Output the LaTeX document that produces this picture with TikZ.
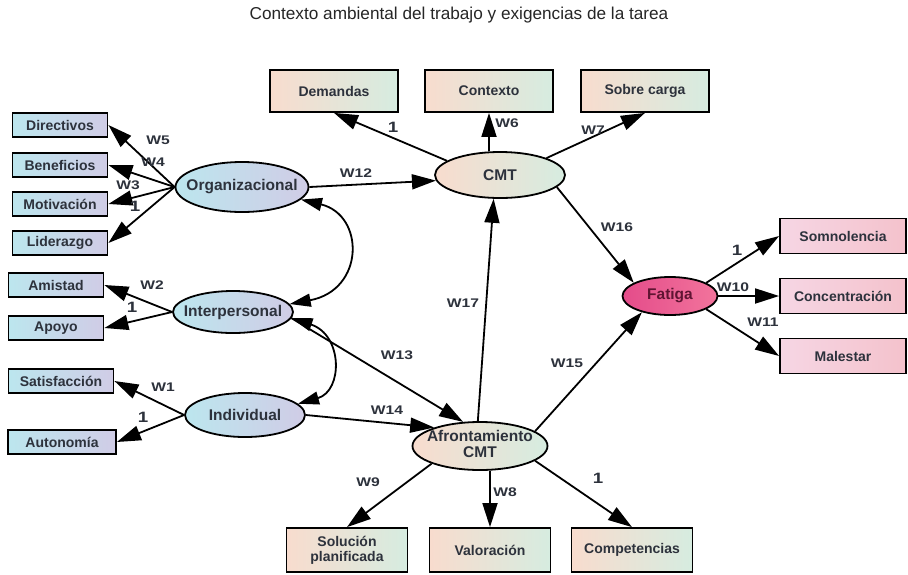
\documentclass[tikz,border=0pt]{standalone}
\usepackage{fontspec}
\setmainfont{Liberation Sans}
\usetikzlibrary{arrows.meta,shapes.geometric}
\definecolor{txtc}{RGB}{45,50,60}
\definecolor{cyanA}{RGB}{188,230,238}
\definecolor{lavB}{RGB}{208,204,230}
\definecolor{peachA}{RGB}{248,220,206}
\definecolor{mintB}{RGB}{214,236,224}
\definecolor{fatA}{RGB}{228,76,138}
\definecolor{fatB}{RGB}{242,116,156}
\definecolor{fatT}{RGB}{95,20,50}
\definecolor{pinkA}{RGB}{246,214,228}
\definecolor{pinkB}{RGB}{244,194,204}
\newcommand{\wlab}[1]{\scalebox{1.25}[1]{#1}}
\begin{document}
\begin{tikzpicture}[x=1pt,y=-1pt,
 basebox/.style={draw=black,line width=1.8pt,rectangle,inner sep=0pt,text=txtc,font=\fontsize{14}{15}\selectfont\bfseries,align=center},
 lbox/.style={basebox,left color=cyanA,right color=lavB,minimum width=95pt,minimum height=24pt},
 pbox/.style={basebox,left color=peachA,right color=mintB,minimum width=128pt,minimum height=42pt},
 rbox/.style={basebox,left color=pinkA,right color=pinkB,minimum width=126pt,minimum height=35pt},
 ell/.style={draw=black,line width=1.8pt,ellipse,inner sep=0pt,text=txtc,font=\fontsize{15.5}{15}\selectfont\bfseries},
 lell/.style={ell,left color=cyanA,right color=lavB},
 pell/.style={ell,left color=peachA,right color=mintB},
 fell/.style={ell,left color=fatA,right color=fatB,text=fatT},
 conn/.style={draw=black,line width=1.8pt,-{Triangle[length=24pt,width=15pt]}},
 dconn/.style={draw=black,line width=1.8pt,{Triangle[length=21pt,width=13pt]}-{Triangle[length=21pt,width=13pt]}},
 lab/.style={text=txtc,font=\fontsize{12.5}{13}\selectfont\bfseries,inner sep=0pt},
 one/.style={text=txtc,font=\fontsize{15}{15}\selectfont\bfseries,inner sep=0pt},
 ttl/.style={text=black!85,font=\fontsize{17.2}{18}\selectfont,inner sep=0pt}
]
\fill[white] (0,0) rectangle (908,574);
\useasboundingbox (0,0) rectangle (908,574);

\node[ttl] (title) at (459,15) {Contexto ambiental del trabajo y exigencias de la tarea};

% left indicators
\node[lbox] (dir) at (60,125) {Directivos};
\node[lbox] (ben) at (60,165) {Beneficios};
\node[lbox] (mot) at (60,204) {Motivación};
\node[lbox] (lid) at (60,243) {Liderazgo};
\node[lbox] (ami) at (56,285) {Amistad};
\node[lbox] (apo) at (56,328) {Apoyo};
\node[lbox,minimum width=105pt] (sat) at (61,381) {Satisfacción};
\node[lbox,minimum width=108pt] (aut) at (62,442) {Autonomía};

% latent variables
\node[lell,minimum width=133pt,minimum height=50pt] (org) at (242,187) {\makebox[0pt]{Organizacional}};
\node[lell,minimum width=120pt,minimum height=42pt] (int) at (233,312) {\makebox[0pt]{Interpersonal}};
\node[lell,minimum width=120pt,minimum height=44pt] (ind) at (245,415) {\makebox[0pt]{Individual}};
\node[pell,minimum width=130pt,minimum height=46pt] (cmt) at (500,175) {\makebox[0pt]{CMT}};
\node[fell,minimum width=95pt,minimum height=38pt] (fat) at (670,296) {\makebox[0pt]{Fatiga}};
\node[pell,minimum width=135pt,minimum height=48pt] (afr) at (480,446) {\makebox[0pt]{\begin{tabular}{@{}c@{}}Afrontamiento\\CMT\end{tabular}}};

% top indicators
\node[pbox] (dem) at (334,91) {Demandas};
\node[pbox] (ctx) at (489,91) {Contexto};
\node[pbox] (sob) at (645,91) {Sobre carga};

% right indicators
\node[rbox] (som) at (843,236) {Somnolencia};
\node[rbox] (con) at (843,296) {Concentración};
\node[rbox] (mal) at (843,356) {Malestar};

% bottom indicators
\node[pbox,minimum width=121pt,minimum height=44pt] (sol) at (347,550) {Solución\\planificada};
\node[pbox,minimum width=121pt,minimum height=44pt] (val) at (490,550) {Valoración};
\node[pbox,minimum width=121pt,minimum height=44pt] (com) at (632,550) {Competencias};

% measurement arrows
\draw[conn] (org.west) -- (dir.east);
\draw[conn] (org.west) -- (ben.east);
\draw[conn] (org.west) -- (mot.east);
\draw[conn] (org.west) -- (lid.east);
\draw[conn] (int.west) -- (ami.east);
\draw[conn] (int.west) -- (apo.east);
\draw[conn] (ind.west) -- (sat.east);
\draw[conn] (ind.west) -- (aut.east);
\draw[conn] (cmt.165) -- (dem.south);
\draw[conn] (ctx.south |- cmt.north) -- (ctx.south);
\draw[conn] (cmt.20) -- (sob.south);
\draw[conn] (afr.200) -- (sol.north);
\draw[conn] (afr.south -| val.north) -- (val.north);
\draw[conn] (afr.-15) -- (com.north);
\draw[conn] (fat.20) -- (som.west);
\draw[conn] (fat.east) -- (con.west);
\draw[conn] (fat.-20) -- (mal.west);

% structural arrows
\draw[conn] (org.east) -- (cmt.185);
\draw[conn] (cmt.-12) -- (fat.160);
\draw[conn] (afr.15) -- (fat.210);
\draw[conn] (afr.95) -- (cmt.255);
\draw[conn] (int.-6) -- (afr.125);
\draw[conn] (ind.east) -- (afr.158);

% covariances
\draw[dconn] (org.-12) .. controls (365,215) and (365,290) .. (int.8);
\draw[dconn] (int.-6) .. controls (343,335) and (343,391) .. (ind.12);

% labels
\node[lab] (w5) at (158,140) {\wlab{W5}};
\node[lab] (w4) at (153,162) {\wlab{W4}};
\node[lab] (w3) at (128,185) {\wlab{W3}};
\node[one] (o1) at (135,206) {\wlab{1}};
\node[lab] (w2) at (152,285) {\wlab{W2}};
\node[one] (o2) at (132,307) {\wlab{1}};
\node[lab] (w1) at (163,387) {\wlab{W1}};
\node[one] (o3) at (143,417) {\wlab{1}};
\node[lab] (w12) at (356,173) {\wlab{W12}};
\node[one] (o4) at (393,127) {\wlab{1}};
\node[lab] (w6) at (507,123) {\wlab{W6}};
\node[lab] (w7) at (593,130) {\wlab{W7}};
\node[lab] (w16) at (617,227) {\wlab{W16}};
\node[lab] (w17) at (463,303) {\wlab{W17}};
\node[lab] (w13) at (397,355) {\wlab{W13}};
\node[lab] (w14) at (387,410) {\wlab{W14}};
\node[lab] (w15) at (567,363) {\wlab{W15}};
\node[lab] (w9) at (368,482) {\wlab{W9}};
\node[lab] (w8) at (505,492) {\wlab{W8}};
\node[one] (o5) at (598,478) {\wlab{1}};
\node[one] (o6) at (737,250) {\wlab{1}};
\node[lab] (w10) at (733,287) {\wlab{W10}};
\node[lab] (w11) at (763,322) {\wlab{W11}};
\end{tikzpicture}
\end{document}
